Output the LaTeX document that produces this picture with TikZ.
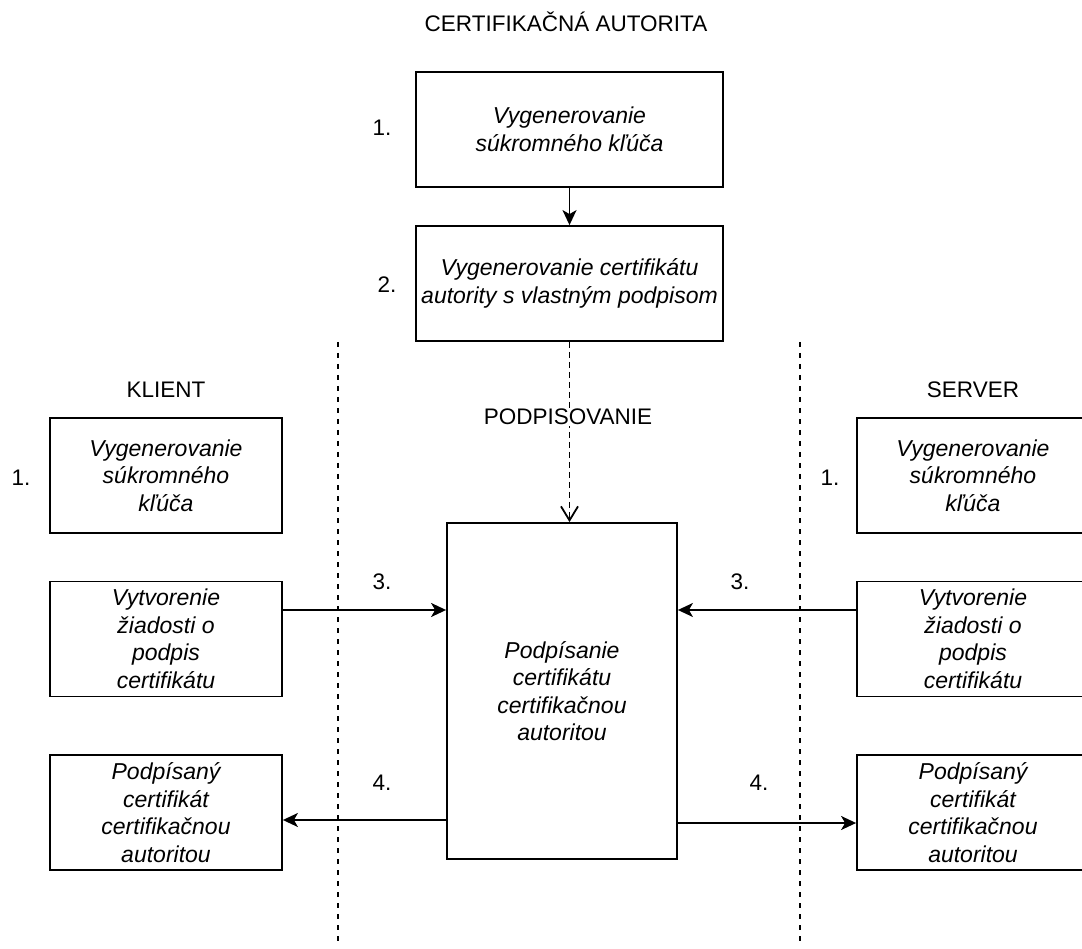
\documentclass[tikz,border=0pt]{standalone}
\usepackage{fontspec}
\setmainfont{Liberation Sans}
\usetikzlibrary{positioning}
\usetikzlibrary{arrows.meta}

\begin{document}
\begin{tikzpicture}[x = 1pt, y = 1pt]
  \tikzstyle{every node}=[font = \fontsize{22.5}{27}\selectfont]
  \tikzstyle{stepbox}=[rectangle, draw = black, line width = 1.8pt, align = center, font = \fontsize{23}{27.5}\selectfont\itshape, minimum width = 232pt, minimum height = 115pt, inner sep = 0pt]
  \tikzstyle{wide}=[minimum width = 307pt]
  \tikzstyle{connect}=[-{Stealth[length = 15pt, width = 14pt, inset = 4pt]}, line width = 1.8pt]
  \tikzstyle{sign}=[-{Straight Barb[length = 14pt, width = 17pt, line width = 1.8pt]}, line width = 1.8pt, dash pattern = on 6pt off 4pt]
  \tikzstyle{border}=[line width = 1.8pt, dash pattern = on 5pt off 6pt]

  \useasboundingbox (0,0) rectangle (1082,-949);

  \node (ca) at (566,-22) {CERTIFIKAČNÁ AUTORITA};
  \node[stepbox, wide] (gen1) at (569.5,-129.5) {Vygenerovanie\\súkromného kľúča};
  \node[stepbox, wide] (gen2) [below of = gen1, node distance = 154pt] {Vygenerovanie certifikátu\\autority s vlastným podpisom};
  \node (n1) at (382,-128) {1.};
  \node (n2) at (387,-285) {2.};

  \node[stepbox, minimum width = 230pt, minimum height = 336pt] (sign) at (562,-691) {Podpísanie\\certifikátu\\certifikačnou\\autoritou};

  % klient
  \node (kl) at (166,-390) {KLIENT};
  \node[stepbox] (kl1) at (166,-475.5) {Vygenerovanie\\súkromného\\kľúča};
  \node[stepbox] (kl2) [below of = kl1, node distance = 163.5pt] {Vytvorenie\\žiadosti o\\podpis\\certifikátu};
  \node[stepbox] (kl3) [below of = kl2, node distance = 173.5pt] {Podpísaný\\certifikát\\certifikačnou\\autoritou};
  \node (kn1) at (21,-478) {1.};
  \node (kn3) at (382,-582) {3.};
  \node (kn4) at (382,-783) {4.};

  % server
  \node (sv) at (973,-390) {SERVER};
  \node[stepbox] (sv1) at (973,-475.5) {Vygenerovanie\\súkromného\\kľúča};
  \node[stepbox] (sv2) [below of = sv1, node distance = 163.5pt] {Vytvorenie\\žiadosti o\\podpis\\certifikátu};
  \node[stepbox] (sv3) [below of = sv2, node distance = 173.5pt] {Podpísaný\\certifikát\\certifikačnou\\autoritou};
  \node (sn1) at (830,-478) {1.};
  \node (sn3) at (740,-582) {3.};
  \node (sn4) at (759,-783) {4.};

  \coordinate (lt) at (338,-342);
  \coordinate (lb) at (338,-945);
  \coordinate (rt) at (800,-342);
  \coordinate (rb) at (800,-945);
  \draw[border] (lt) -- (lb);
  \draw[border] (rt) -- (rb);

  \path (gen1) edge [connect] (gen2);

  \path (gen2.south) edge [sign] (gen2.south |- sign.north);
  \node[fill = white, inner sep = 1pt] (podp) at (568,-417) {PODPISOVANIE};

  \path ([yshift = 29pt]kl2.east) edge [connect] ([yshift = 29pt]kl2.east -| sign.west);
  \path ([yshift = 29pt]sv2.west) edge [connect] ([yshift = 29pt]sv2.west -| sign.east);
  \path ([yshift = -7.5pt]kl3.east -| sign.west) edge [connect] ([yshift = -7.5pt]kl3.east);
  \path ([yshift = -10.5pt]sv3.west -| sign.east) edge [connect] ([yshift = -10.5pt]sv3.west);

\end{tikzpicture}
\end{document}
